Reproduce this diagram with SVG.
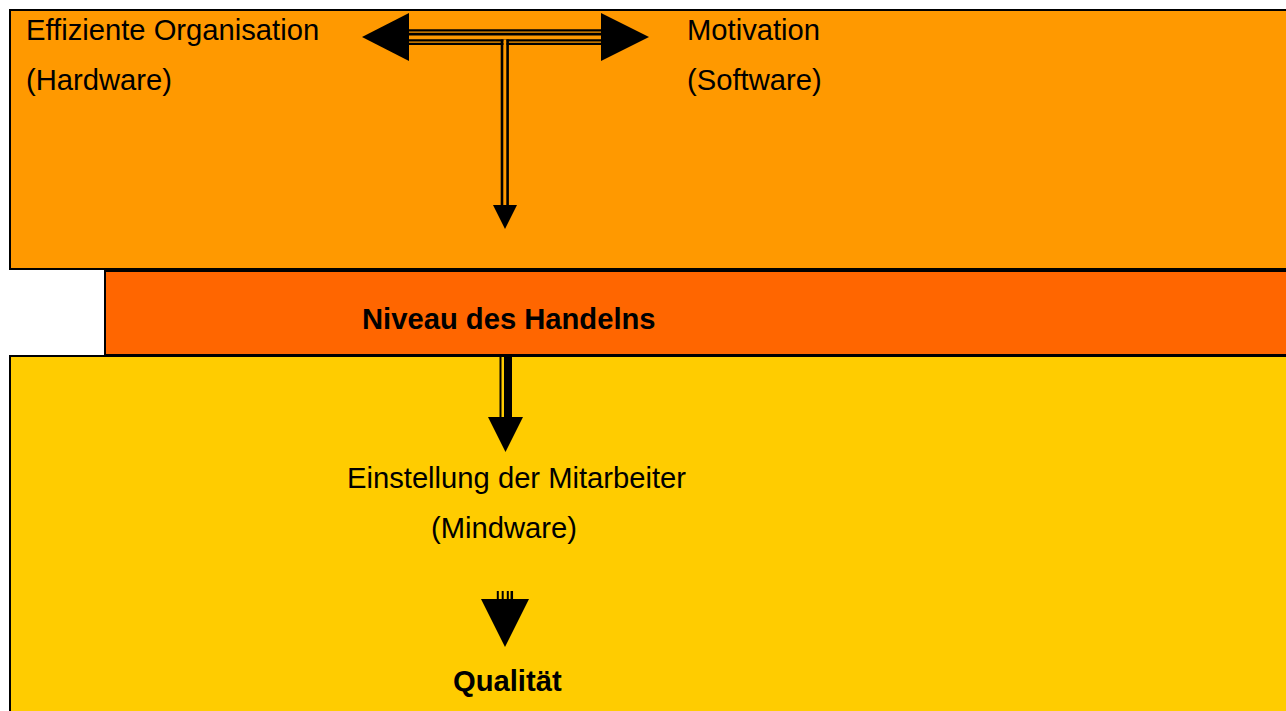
<svg xmlns="http://www.w3.org/2000/svg" width="1286" height="711" viewBox="0 0 1286 711">
<style>
.box{stroke:#000;stroke-width:2}
.t{font-family:"Liberation Sans",Arial,sans-serif;font-size:29.2px;fill:#000}
.b{font-weight:bold}
.ln{stroke:#000;fill:none}
</style>
<rect width="1286" height="711" fill="#fff"/>
<g id="top-box">
<rect class="box" x="10" y="10" width="1290" height="259" fill="#FF9900"/>
<text class="t" x="26" y="40">Effiziente Organisation</text>
<text class="t" x="26" y="90">(Hardware)</text>
<text class="t" x="687" y="40">Motivation</text>
<text class="t" x="687" y="90">(Software)</text>
</g>
<g id="bottom-box">
<rect class="box" x="10" y="356" width="1290" height="400" fill="#FFCC00"/>
<text class="t" x="347" y="488">Einstellung der Mitarbeiter</text>
<text class="t" x="431" y="538">(Mindware)</text>
<text class="t b" x="453" y="691">Qualität</text>
</g>
<g id="middle-box">
<rect class="box" x="105" y="271" width="1195" height="84" fill="#FF6600"/>
<text class="t b" x="362" y="329">Niveau des Handelns</text>
</g>
<g id="connectors">
<g id="arrow-horizontal">
<line class="ln" x1="408" y1="30.3" x2="602" y2="30.3" stroke-width="2.2"/>
<line class="ln" x1="408" y1="34.2" x2="602" y2="34.2" stroke-width="2.8"/>
<line class="ln" x1="408" y1="40.3" x2="602" y2="40.3" stroke-width="2.2"/>
<line class="ln" x1="408" y1="43.8" x2="602" y2="43.8" stroke-width="2.2"/>
<polygon points="409,13 409,61 362,37" fill="#000"/>
<polygon points="601,13 601,61 649,37" fill="#000"/>
</g>
<g id="arrow-down-1">
<rect x="503.5" y="39.5" width="3" height="166" fill="#FF9900"/>
<line class="ln" x1="502" y1="39.5" x2="502" y2="206" stroke-width="2.6"/>
<line class="ln" x1="507.6" y1="39.5" x2="507.6" y2="206" stroke-width="2.6"/>
<polygon points="493,205 517,205 505,229" fill="#000"/>
</g>
<g id="arrow-down-2">
<line class="ln" x1="500.5" y1="357" x2="500.5" y2="418" stroke-width="2"/>
<line class="ln" x1="508" y1="357" x2="508" y2="418" stroke-width="8"/>
<polygon points="488,417 523,417 505.5,452" fill="#000"/>
</g>
<g id="arrow-down-3">
<line class="ln" x1="497.8" y1="591" x2="497.8" y2="600" stroke-width="2"/>
<line class="ln" x1="502.7" y1="591" x2="502.7" y2="600" stroke-width="2"/>
<line class="ln" x1="507.8" y1="591" x2="507.8" y2="600" stroke-width="2"/>
<line class="ln" x1="511.8" y1="591" x2="511.8" y2="600" stroke-width="2.5"/>
<polygon points="481,599 529,599 505,647" fill="#000"/>
</g>
</g>
</svg>
